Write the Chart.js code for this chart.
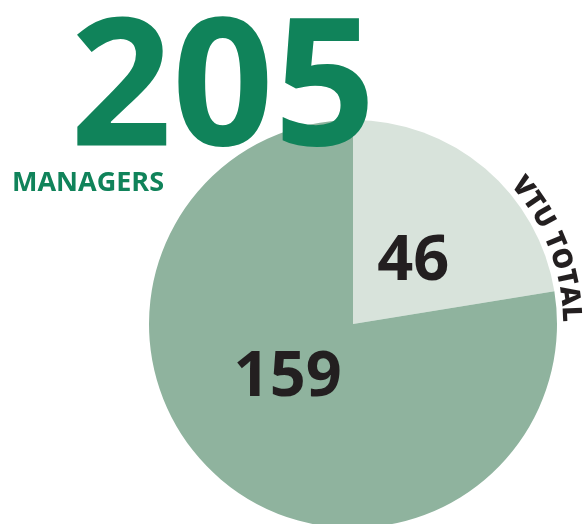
<!DOCTYPE html>
<html>
<head>
<meta charset="utf-8">
<script src="https://cdn.jsdelivr.net/npm/chart.js@4"></script>
<style>
  body { margin: 0; background: #fff; overflow: hidden; }
  #wrap { position: absolute; left: 0; top: 0; width: 586px; height: 560px; }
</style>
</head>
<body>
<div id="wrap"><canvas id="myChart" width="586" height="560"></canvas></div>
<script>
const labels = ["VTU total", "Other managers"];
const values = [46, 159];
const colors = ["#d8e3db", "#8fb39e"];
const total = 205;
const totalLabel = "MANAGERS";
const arcLabel = "VTU TOTAL";

const green = "#10835a";
const ink = "#231f20";

// label placement inside each slice: fraction of radius, angle nudge (deg)
const labelSpots = [
  { r: 0.43, nudge: 3 },
  { r: 0.41, nudge: 11 },
];

const textPlugin = {
  id: "texts",
  afterDraw(chart) {
    const ctx = chart.ctx;
    const meta = chart.getDatasetMeta(0);
    const arc0 = meta.data[0];
    const cx = arc0.x, cy = arc0.y, R = arc0.outerRadius;

    ctx.save();
    // slice values
    ctx.fillStyle = ink;
    ctx.font = "bold 63px 'Open Sans'";
    ctx.textAlign = "center";
    ctx.textBaseline = "middle";
    meta.data.forEach((a, i) => {
      const mid = (a.startAngle + a.endAngle) / 2 + labelSpots[i].nudge * Math.PI / 180;
      const rr = R * labelSpots[i].r;
      ctx.fillText(String(values[i]), cx + Math.cos(mid) * rr, cy + Math.sin(mid) * rr + 2);
    });

    // big total
    ctx.fillStyle = green;
    ctx.textBaseline = "alphabetic";
    ctx.font = "bold 178px 'Open Sans'";
    ctx.fillText(String(total), 223, 145);
    ctx.textAlign = "left";
    ctx.font = "bold 27px 'Open Sans'";
    ctx.fillText(totalLabel, 12, 191);

    // curved label along the rim of the first slice
    ctx.fillStyle = ink;
    ctx.font = "800 27px 'Open Sans'";
    ctx.textAlign = "center";
    const baseR = R + 6;
    const startDeg = 48.5, endDeg = 89.5;
    const chars = [...arcLabel];
    const widths = chars.map((ch) => ctx.measureText(ch).width);
    const span = (endDeg - startDeg) * Math.PI / 180 * baseR;
    const spacing = (span - widths.reduce((s, w) => s + w, 0)) / (chars.length - 1);
    let ang = -Math.PI / 2 + startDeg * Math.PI / 180;
    chars.forEach((ch, i) => {
      const half = (widths[i] / 2) / baseR;
      ang += half;
      ctx.save();
      ctx.translate(cx + Math.cos(ang) * baseR, cy + Math.sin(ang) * baseR);
      ctx.rotate(ang + Math.PI / 2);
      ctx.fillText(ch, 0, 0);
      ctx.restore();
      ang += half + spacing / baseR;
    });
    ctx.restore();
  },
};

new Chart(document.getElementById("myChart"), {
  type: "pie",
  data: {
    labels,
    datasets: [{ data: values, backgroundColor: colors, borderWidth: 0 }],
  },
  options: {
    responsive: false,
    animation: false,
    layout: { padding: { left: 149, right: 29, top: 120, bottom: 32 } },
    plugins: { legend: { display: false }, tooltip: { enabled: false } },
  },
  plugins: [textPlugin],
});
</script>
</body>
</html>
